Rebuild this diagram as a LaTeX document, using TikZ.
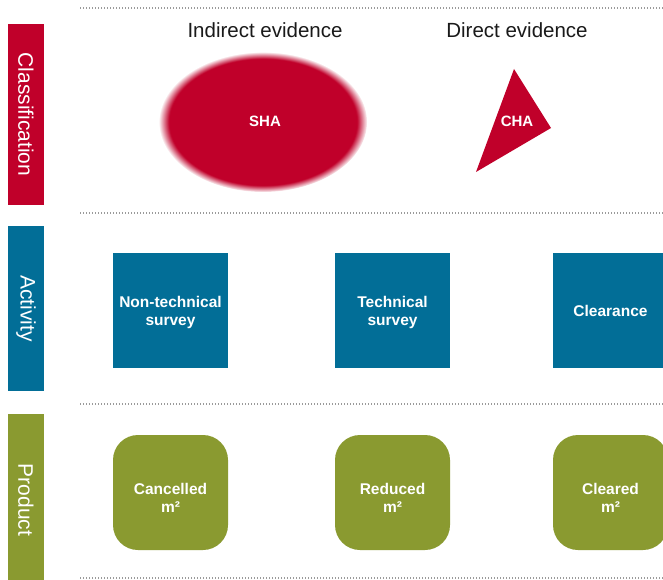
\documentclass[tikz,border=0pt]{standalone}
\usepackage{fontspec}
\setmainfont{Liberation Sans}
\usetikzlibrary{fadings,calc}
\definecolor{cred}{HTML}{C0002A}
\definecolor{cblue}{HTML}{026E97}
\definecolor{cgreen}{HTML}{8A9A30}
\definecolor{cdot}{HTML}{9A9A9A}
\definecolor{ctext}{HTML}{1A1A1A}
\begin{document}
\begin{tikzpicture}[x=1pt,y=-1pt,
  sidebar/.style={rectangle, inner sep=0pt, text=white, rotate=-90, minimum height=36pt, font=\fontsize{21}{24}\selectfont},
  sep/.style={cdot, line width=1.3pt, dash pattern=on 1.1pt off 1.9pt},
  head/.style={text=ctext, font=\fontsize{20.5}{24}\selectfont, inner sep=0pt},
  actbox/.style={rectangle, fill=cblue, minimum size=115pt, inner sep=0pt},
  prodbox/.style={rectangle, rounded corners=25pt, fill=cgreen, minimum size=115pt, inner sep=0pt},
  boxtxt/.style={text=white, inner sep=0pt, align=center, font=\bfseries\fontsize{15.5}{18}\selectfont},
  lbl/.style={text=white, inner sep=0pt, font=\bfseries\fontsize{15}{18}\selectfont}]
\useasboundingbox (0,0) rectangle (663,580);
\clip (0,0) rectangle (663,580);
\fill[white] (0,0) rectangle (663,580);
% separators
\coordinate (s1a) at (80,8);   \coordinate (s1b) at (663,8);
\coordinate (s2a) at (80,213); \coordinate (s2b) at (663,213);
\coordinate (s3a) at (80,404); \coordinate (s3b) at (663,404);
\coordinate (s4a) at (80,578); \coordinate (s4b) at (663,578);
\draw[sep] (s1a) -- (s1b);
\draw[sep] (s2a) -- (s2b);
\draw[sep] (s3a) -- (s3b);
\draw[sep] (s4a) -- (s4b);
% side bars
\node[sidebar, fill=cred, minimum width=181pt] (classbar) at (26,114.5) {Classification};
\node[sidebar, fill=cblue, minimum width=165pt] (actbar) at (26,308.5) {Activity};
\node[sidebar, fill=cgreen, minimum width=172pt] (prodbar) at (26,500) {Product};
% headings
\node[head] (indirect) at (265,30) {Indirect evidence};
\node[head] (direct) at (517,30) {Direct evidence};
% SHA blurred ellipse
\fill[cred, path fading=circle with fuzzy edge 10 percent] (263,122) ellipse [x radius=104, y radius=70];
\node[lbl] (sha) at (265,121) {SHA};
% CHA triangle
\coordinate (t1) at (514,69);
\coordinate (t2) at (551,128);
\coordinate (t3) at (476,172);
\fill[cred] (t1) -- (t2) -- (t3) -- cycle;
\node[lbl] (cha) at (517,121) {CHA};
% activity boxes
\node[actbox] (nts) at (170.5,310.5) {};
\node[actbox] (ts) at (392.5,310.5) {};
\node[actbox] (clr) at (610.5,310.5) {};
\node[boxtxt] (ntsT) at ($(nts.center)+(0,2)$) {Non-technical\\survey};
\node[boxtxt] (tsT) at ($(ts.center)+(0,2)$) {Technical\\survey};
\node[boxtxt] (clrT) at ($(clr.center)+(0,0)$) {Clearance};
% product boxes
\node[prodbox] (canc) at (170.5,492.5) {};
\node[prodbox] (red) at (392.5,492.5) {};
\node[prodbox] (cld) at (610.5,492.5) {};
\node[boxtxt] (cancT) at ($(canc.center)+(0,5)$) {Cancelled\\m²};
\node[boxtxt] (redT) at ($(red.center)+(0,5)$) {Reduced\\m²};
\node[boxtxt] (cldT) at ($(cld.center)+(0,5)$) {Cleared\\m²};
\end{tikzpicture}
\end{document}
